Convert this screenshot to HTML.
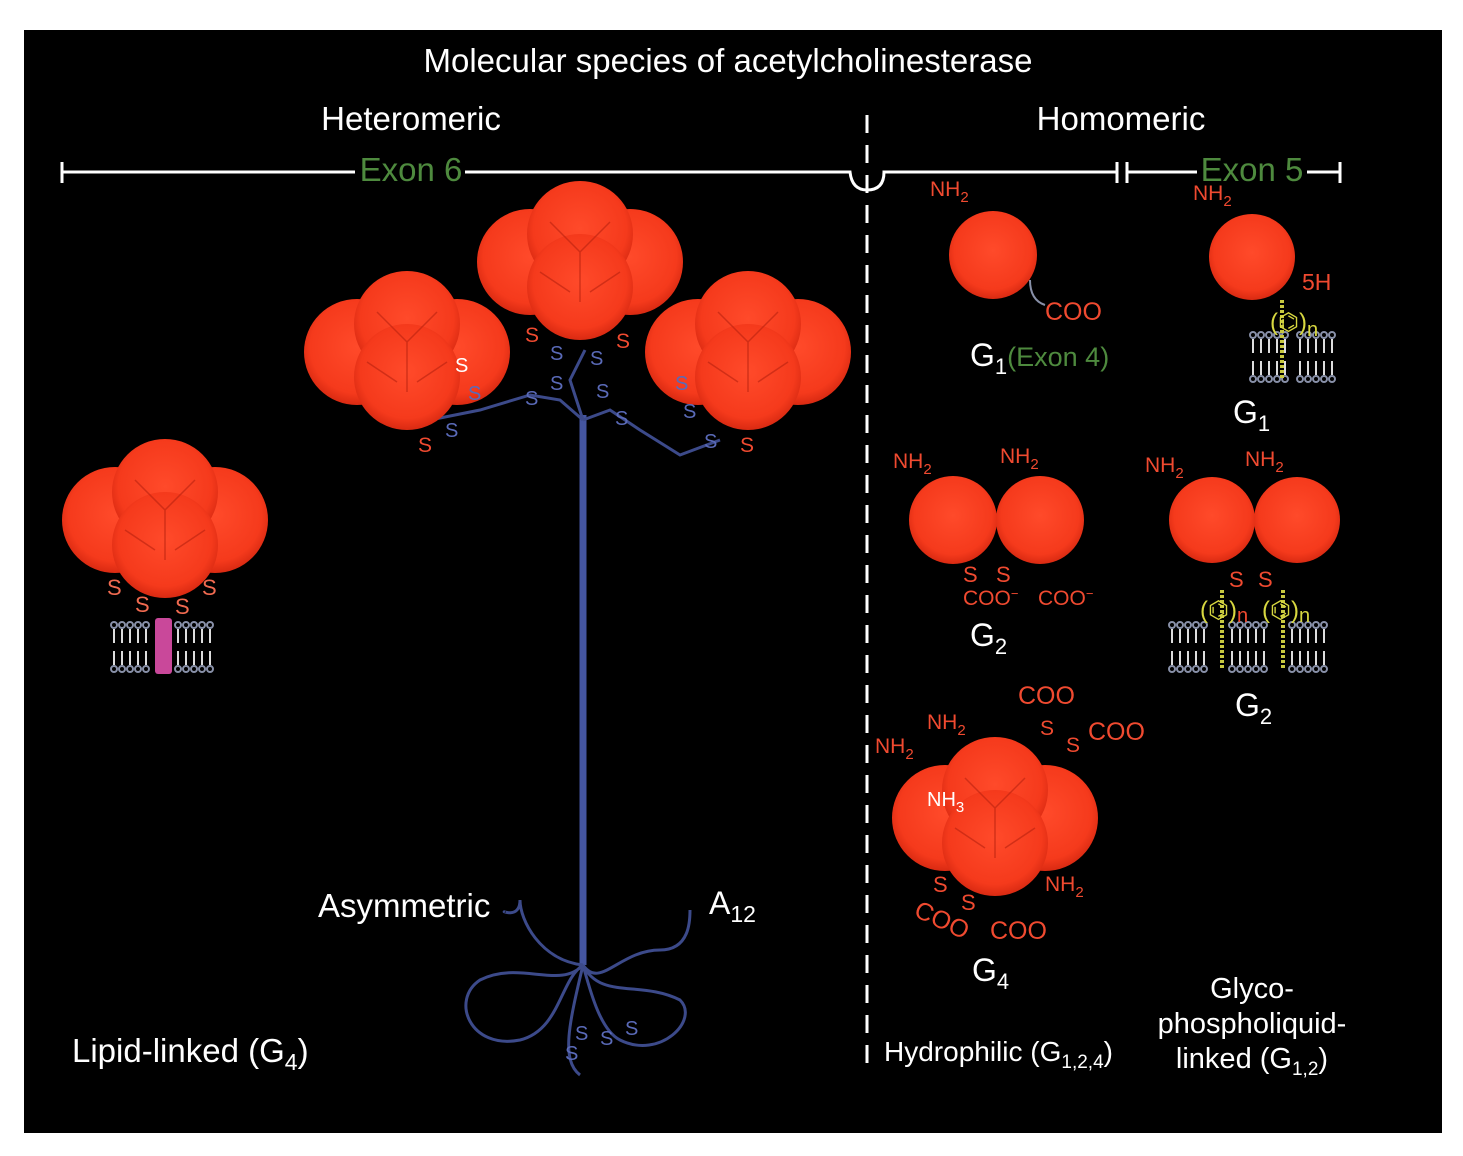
<!DOCTYPE html>
<html><head><meta charset="utf-8"><style>
html,body{margin:0;padding:0;background:#fff;}
svg{display:block;}
text{font-family:"Liberation Sans",sans-serif;}
</style></head><body>
<svg width="1463" height="1156" viewBox="0 0 1463 1156" xmlns="http://www.w3.org/2000/svg">
<defs>
<radialGradient id="rg" cx="50%" cy="45%" r="55%">
<stop offset="0" stop-color="#ff4a2a"/><stop offset="0.8" stop-color="#f53a1c"/><stop offset="1" stop-color="#d92a12"/>
</radialGradient>
<g id="tet">
<circle cx="-50" cy="0" r="53" fill="url(#rg)"/>
<circle cx="50" cy="0" r="53" fill="url(#rg)"/>
<circle cx="0" cy="-28" r="53" fill="url(#rg)"/>
<circle cx="0" cy="25" r="53" fill="url(#rg)"/>
<path d="M-30,-40 L0,-10 L30,-40 M0,-10 L0,40 M-40,10 L-10,30 M40,10 L10,30" stroke="#b8220f" stroke-width="1.5" fill="none" opacity="0.6"/>
</g>
<g id="mem">
<g stroke="#8890a8" stroke-width="2" fill="none">
<circle cx="0" cy="0" r="3"/><circle cx="8" cy="0" r="3"/><circle cx="16" cy="0" r="3"/><circle cx="24" cy="0" r="3"/><circle cx="32" cy="0" r="3"/>
<circle cx="0" cy="44" r="3"/><circle cx="8" cy="44" r="3"/><circle cx="16" cy="44" r="3"/><circle cx="24" cy="44" r="3"/><circle cx="32" cy="44" r="3"/>
<path d="M0,4 V18 M8,4 V18 M16,4 V18 M24,4 V18 M32,4 V18 M0,26 V40 M8,26 V40 M16,26 V40 M24,26 V40 M32,26 V40" stroke="#ddd"/>
</g>
</g>
</defs>
<rect x="24" y="30" width="1418" height="1103" fill="#000"/>

<text x="728" y="72" fill="#fff" font-size="33" text-anchor="middle">Molecular species of acetylcholinesterase</text>
<text x="411" y="130" fill="#fff" font-size="33" text-anchor="middle">Heteromeric</text>
<text x="1121" y="130" fill="#fff" font-size="33" text-anchor="middle">Homomeric</text>

<g stroke="#fff" stroke-width="3" fill="none">
<path d="M62,172 H355 M465,172 H850 Q852,190 867,190 Q884,190 884,172 H1117"/>
<path d="M62,162 V183 M1117,162 V183 M1127,162 V183 M1340,162 V183 M1127,172 H1197 M1307,172 H1340"/>
<path d="M867,115 V1070" stroke-dasharray="18,12"/>
</g>
<text x="411" y="181" fill="#4e8a3e" font-size="33" text-anchor="middle">Exon 6</text>
<text x="1252" y="181" fill="#4e8a3e" font-size="33" text-anchor="middle">Exon 5</text>

<!-- asymmetric -->
<g stroke="#3c4a8a" stroke-width="3" fill="none">
<path d="M583,415 V965" stroke-width="7" stroke="#4455a0"/>
<path d="M583,420 L560,400 L530,395 L480,410 L430,420 M583,420 L610,410 L640,430 L680,455 L720,440 M583,420 L570,380 L585,350"/>
<path d="M583,965 C560,990 520,960 480,980 C450,1000 470,1050 520,1040 C560,1030 560,980 583,965 M583,965 C600,1000 640,980 680,1000 C700,1020 660,1060 620,1040 C600,1030 590,990 583,965 M583,965 C570,1020 560,1060 580,1075 M583,965 C600,990 620,950 660,950 C690,950 690,920 690,910 M583,965 C540,960 520,920 520,900 C520,920 500,910 505,912"/>
</g>
<use href="#tet" x="580" y="262"/>
<use href="#tet" x="407" y="352"/>
<use href="#tet" x="748" y="352"/>
<g fill="#f04a30" font-size="21">
<text x="525" y="342">S</text><text x="616" y="348">S</text>
<text x="418" y="452">S</text><text x="740" y="452">S</text>
</g>
<g fill="#5a6ab8" font-size="20">
<text x="550" y="360">S</text><text x="590" y="365">S</text><text x="550" y="390">S</text><text x="596" y="398">S</text>
<text x="525" y="405">S</text><text x="615" y="425">S</text><text x="445" y="437">S</text><text x="468" y="400">S</text>
<text x="675" y="390">S</text><text x="683" y="418">S</text><text x="704" y="448">S</text>
<text x="565" y="1060">S</text><text x="575" y="1040">S</text><text x="600" y="1045">S</text><text x="625" y="1035">S</text>
</g>
<text x="455" y="372" fill="#fff" font-size="20">S</text>
<text x="318" y="917" fill="#fff" font-size="33">Asymmetric</text>
<text x="709" y="914" fill="#fff" font-size="32">A<tspan font-size="23" dy="8">12</tspan></text>

<!-- lipid-linked -->
<use href="#tet" x="165" y="520"/>
<use href="#mem" x="114" y="625"/><use href="#mem" x="178" y="625"/>
<rect x="155" y="618" width="17" height="56" rx="3" fill="#c9489a"/>
<g fill="#f06a50" font-size="22"><text x="107" y="595">S</text><text x="135" y="612">S</text><text x="175" y="614">S</text><text x="202" y="595">S</text></g>
<text x="72" y="1062" fill="#fff" font-size="33">Lipid-linked (G<tspan font-size="23" dy="8">4</tspan><tspan dy="-8">)</tspan></text>

<!-- G1 hydrophilic -->
<circle cx="993" cy="255" r="44" fill="url(#rg)"/>
<path d="M1030,280 Q1030,300 1045,305" stroke="#8890a8" stroke-width="2" fill="none"/>
<g fill="#f04a30" font-size="21">
<text x="930" y="196">NH<tspan font-size="15" dy="6">2</tspan></text>
<text x="1045" y="320" font-size="25">COO</text>
<text x="1193" y="200">NH<tspan font-size="15" dy="6">2</tspan></text>
<text x="1302" y="290" font-size="23">5H</text>
</g>
<text x="970" y="366" fill="#fff" font-size="32">G<tspan font-size="22" dy="8">1</tspan><tspan fill="#4e8a3e" font-size="27" dy="-8">(Exon 4)</tspan></text>

<!-- G1 GPI -->
<circle cx="1252" cy="257" r="43" fill="url(#rg)"/>
<use href="#mem" x="1253" y="335"/><use href="#mem" x="1300" y="335"/>
<path d="M1282,300 V380" stroke="#c8c840" stroke-width="4" stroke-dasharray="3,2"/>
<text x="1270" y="330" fill="#d8d840" font-size="24">(<tspan>⌬</tspan>)<tspan dy="6" font-size="20">n</tspan></text>
<text x="1233" y="423" fill="#fff" font-size="32">G<tspan font-size="22" dy="8">1</tspan></text>

<!-- G2 hydrophilic -->
<circle cx="953" cy="520" r="44" fill="url(#rg)"/><circle cx="1040" cy="520" r="44" fill="url(#rg)"/>
<g fill="#f04a30" font-size="21">
<text x="893" y="468">NH<tspan font-size="15" dy="6">2</tspan></text>
<text x="1000" y="463">NH<tspan font-size="15" dy="6">2</tspan></text>
<text x="963" y="582" font-size="22">S</text><text x="996" y="582" font-size="22">S</text>
<text x="963" y="605">COO<tspan font-size="13" dy="-7">−</tspan></text>
<text x="1038" y="605">COO<tspan font-size="13" dy="-7">−</tspan></text>
<text x="1145" y="472">NH<tspan font-size="15" dy="6">2</tspan></text>
<text x="1245" y="466">NH<tspan font-size="15" dy="6">2</tspan></text>
<text x="1229" y="587" font-size="22">S</text><text x="1258" y="587" font-size="22">S</text>
</g>
<text x="970" y="646" fill="#fff" font-size="32">G<tspan font-size="22" dy="8">2</tspan></text>

<!-- G2 GPI -->
<circle cx="1212" cy="520" r="43" fill="url(#rg)"/><circle cx="1297" cy="520" r="43" fill="url(#rg)"/>
<use href="#mem" x="1172" y="625"/><use href="#mem" x="1232" y="625"/><use href="#mem" x="1292" y="625"/>
<path d="M1222,590 V670 M1283,590 V670" stroke="#c8c840" stroke-width="4" stroke-dasharray="3,2"/>
<text x="1200" y="618" fill="#d8d840" font-size="24">(⌬)<tspan fill="#f04a30" font-size="20" dy="4">n</tspan></text>
<text x="1262" y="618" fill="#d8d840" font-size="24">(⌬)<tspan font-size="20" dy="4">n</tspan></text>
<text x="1235" y="716" fill="#fff" font-size="32">G<tspan font-size="22" dy="8">2</tspan></text>

<!-- G4 hydrophilic -->
<use href="#tet" x="995" y="818"/>
<g fill="#f04a30" font-size="21">
<text x="1018" y="704" font-size="25">COO</text><text x="1088" y="740" font-size="25">COO</text>
<text x="1040" y="735">S</text><text x="1066" y="752">S</text>
<text x="927" y="729">NH<tspan font-size="15" dy="6">2</tspan></text>
<text x="875" y="753">NH<tspan font-size="15" dy="6">2</tspan></text>
<text x="1045" y="891">NH<tspan font-size="15" dy="6">2</tspan></text>
<text x="933" y="892" font-size="22">S</text><text x="961" y="910" font-size="22">S</text>
<text x="915" y="925" font-size="25" transform="rotate(25 935 915)">COO</text>
<text x="990" y="939" font-size="25">COO</text>
</g>
<text x="927" y="806" fill="#fff" font-size="20">NH<tspan font-size="15" dy="6">3</tspan></text>
<text x="972" y="981" fill="#fff" font-size="32">G<tspan font-size="22" dy="8">4</tspan></text>

<text x="884" y="1061" fill="#fff" font-size="28">Hydrophilic (G<tspan font-size="19" dy="7">1,2,4</tspan><tspan dy="-7">)</tspan></text>
<g fill="#fff" font-size="29" text-anchor="middle">
<text x="1252" y="998">Glyco-</text>
<text x="1252" y="1033">phospholiquid-</text>
<text x="1252" y="1068">linked (G<tspan font-size="19" dy="7">1,2</tspan><tspan dy="-7">)</tspan></text>
</g>
</svg>
</body></html>
